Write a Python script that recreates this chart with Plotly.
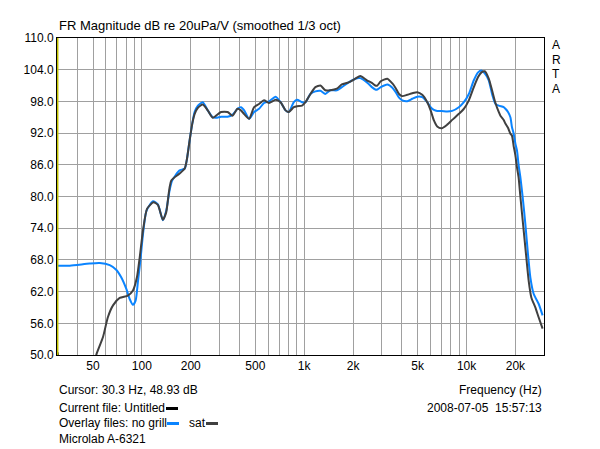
import math
import plotly.graph_objects as go

# ---------------- data ----------------
freq_nogrill = [30.3, 36, 47.6, 55, 63.4, 69.7, 74.6, 80.2, 84.1, 88.1, 91.5, 94.7, 97.9,
                101.6, 106.7, 117, 125.5, 134.6, 141.2, 148, 153.6, 170, 183.6, 189.5,
                196.8, 204.4, 211.2, 221.4, 237.3, 254.6, 273.1, 286.6, 307.2, 337.2,
                362, 388.3, 407.4, 427, 458, 491.3, 527, 565.4, 606.6, 667.1, 715.5,
                767.6, 804.2, 862.7, 904, 970, 1018, 1092, 1172, 1258, 1349, 1447,
                1590, 1706, 1878, 2064, 2215, 2434, 2611, 2741, 2822, 2962, 3252,
                3492, 3662, 3837, 4021, 4314, 4632, 4972, 5335, 5726, 6009, 6294,
                6596, 7021, 7596, 8157, 8965, 9623, 10330, 11086, 11778, 12360,
                12950, 13700, 14357, 15067, 15786, 16940, 17355, 18006, 18627,
                19053, 19518, 19992, 20448, 20946, 21456, 22167, 23028, 23892,
                24714, 25896, 27795, 29412]
db_nogrill = [66.9, 66.9, 67.3, 67.4, 67.0, 66.1, 64.7, 62.5, 60.6, 59.5, 60.3, 64.1, 67.9,
              72.9, 77.3, 79.1, 78.5, 75.5, 77.3, 81.1, 83.0, 84.9, 85.3, 87.1,
              90.6, 93.8, 96.0, 97.2, 97.85, 96.3, 95.0, 94.9, 95.1, 95.1,
              95.5, 96.6, 96.9, 96.3, 94.7, 96.0, 96.6, 97.7, 98.0, 98.9, 97.85,
              96.3, 96.0, 97.85, 98.3, 97.85, 97.85, 99.4, 99.9, 100.0, 99.4, 100.1,
              100.1, 100.7, 101.6, 102.3, 102.4, 101.6, 100.7, 100.25, 100.25, 100.7, 101.2,
              100.6, 99.75, 98.7, 98.2, 98.05, 98.5, 98.9, 98.8, 97.85, 96.9, 96.4,
              96.2, 96.2, 96.1, 96.2, 96.9, 97.85, 99.4, 102.0, 103.5, 103.85,
              103.3, 102.0, 99.4, 97.55, 97.2, 96.9, 96.6, 96.0, 95.0,
              93.1, 91.9, 90.0, 88.7, 85.9, 83.65, 79.9, 74.8, 69.15,
              64.7, 61.6, 59.7, 57.5]

freq_sat = [30.3, 31, 33, 40, 47, 52.6, 57.6, 61.8, 66.4, 73, 82, 88.1, 93.2, 97,
            101.6, 107.7, 118, 125.5, 134.6, 141.2, 151.5, 170.1, 183.6, 189.5,
            196.8, 204.4, 211.2, 221.4, 237.3, 254.6, 273.1, 286.6, 307.2, 337.2,
            362, 388.3, 407.4, 427, 458, 491.3, 527, 565.4, 606.6, 667.1, 715.5,
            767.6, 804.2, 862.7, 904, 970, 1018, 1092, 1172, 1258, 1349, 1447,
            1590, 1706, 1878, 2064, 2215, 2434, 2611, 2741, 2822, 2962, 3252,
            3492, 3662, 3837, 4021, 4314, 4632, 4972, 5335, 5726, 6009, 6294,
            6596, 7021, 7596, 8157, 8965, 9623, 10330, 11086, 11778, 12360,
            12950, 13700, 14357, 15067, 15786, 16170, 16940, 17355, 18006,
            18627, 19053, 19518, 19992, 20448, 20946, 21456, 22482, 23226,
            24129, 25068, 26526, 27795, 29412]
db_sat = [50.5, 48.5, 45.0, 42.0, 45.0, 50.2, 53.4, 57.2, 59.4, 60.8, 61.25, 62.2, 64.7, 68.5,
          73.6, 77.7, 78.9, 78.4, 75.6, 77.0, 83.0, 84.3, 85.3, 87.1,
          90.6, 93.8, 95.6, 96.8, 97.4, 96.3, 94.9, 95.3, 96.0, 96.0,
          95.3, 96.6, 96.3, 95.6, 94.7, 96.9, 97.5, 98.2, 97.7, 98.3, 97.85,
          96.3, 96.0, 96.9, 97.1, 97.2, 97.85, 99.4, 100.7, 101.0, 100.1, 100.1,
          100.4, 101.2, 101.6, 102.3, 102.8, 102.0, 101.5, 101.0, 101.0, 101.8, 102.3,
          101.4, 100.5, 99.4, 99.0, 99.25, 99.55, 99.75, 99.25, 97.85, 96.3, 94.4,
          93.25, 92.9, 93.6, 94.5, 95.65, 96.6, 98.2, 100.7, 102.6, 103.5,
          103.7, 102.3, 100.1, 97.7, 96.0, 95.3, 94.5, 93.8, 93.0,
          91.9, 91.5, 89.5, 87.8, 85.5, 83.5, 80.0, 73.6, 69.15,
          64.1, 60.9, 59.0, 57.15, 55.0]

x_tick_vals = [50, 100, 200, 500, 1000, 2000, 5000, 10000, 20000]
x_tick_text = ["50", "100", "200", "500", "1k", "2k", "5k", "10k", "20k"]
x_minor_grid = [40, 60, 70, 80, 90, 300, 400, 600, 700, 800, 900,
                3000, 4000, 6000, 7000, 8000, 9000]
x_decade_grid = [100, 1000, 10000]
y_tick_vals = [50, 56, 62, 68, 74, 80, 86, 92, 98, 104, 110]
x_range_hz = [30, 30000]
y_range_db = [50, 110]
cursor_hz = 30.3

title_text = "FR Magnitude dB re 20uPa/V (smoothed 1/3 oct)"
cursor_text = "Cursor: 30.3 Hz, 48.93 dB"
current_text = "Current file: Untitled"
overlay_text = "Overlay files: no grill"
overlay2_text = "sat"
name_text = "Microlab A-6321"
freq_label = "Frequency (Hz)"
date_text = "2008-07-05\u00a0\u00a015:57:13"

# ---------------- styling ----------------
WIN_W, WIN_H = 600, 449
OFF = 8  # page body margin of the browser
W, H = WIN_W - OFF, WIN_H - OFF
# plot area in window pixels
L, R, T, B = 57, 544, 38, 355
FONT = dict(family="Arial, Liberation Sans, sans-serif", size=12, color="#000000")
TITLE_FONT = dict(family="Arial, Liberation Sans, sans-serif", size=13, color="#000000")
BLUE = "#0a84ff"
DARK = "#404040"
GRID = "#a0a0a0"


def xp(px):
    return (px - L) / (R - L)


def yp(py):
    return (B - py) / (B - T)


fig = go.Figure()
fig.add_trace(go.Scatter(x=freq_nogrill, y=db_nogrill, mode="lines",
                         line=dict(color=BLUE, width=2, shape="spline", smoothing=0.6),
                         hoverinfo="skip", showlegend=False))
fig.add_trace(go.Scatter(x=freq_sat, y=db_sat, mode="lines",
                         line=dict(color=DARK, width=2, shape="spline", smoothing=0.6),
                         hoverinfo="skip", showlegend=False))

fig.update_layout(
    width=W, height=H,
    margin=dict(l=L - OFF, r=WIN_W - R, t=T - OFF, b=WIN_H - B, pad=0),
    paper_bgcolor="white", plot_bgcolor="white",
    font=FONT,
    showlegend=False,
    xaxis=dict(type="log", range=[math.log10(x_range_hz[0]), math.log10(x_range_hz[1])],
               tickmode="array", tickvals=x_tick_vals, ticktext=x_tick_text,
               showgrid=True, gridcolor=GRID, gridwidth=1,
               minor=dict(tickmode="array", tickvals=x_minor_grid, showgrid=True,
                          gridcolor=GRID, gridwidth=1, ticks=""),
               ticks="", ticklen=0, showline=True, linecolor="black", linewidth=1,
               mirror=True, zeroline=False, tickfont=FONT, fixedrange=True),
    xaxis2=dict(type="log", overlaying="x", matches="x",
                range=[math.log10(x_range_hz[0]), math.log10(x_range_hz[1])],
                tickmode="array", tickvals=x_decade_grid, showticklabels=False,
                showgrid=True, gridcolor="#8a8a8a", gridwidth=1, ticks="",
                showline=False, zeroline=False),
    yaxis=dict(range=y_range_db, tickmode="array", tickvals=y_tick_vals,
               tickformat=".1f", showgrid=True, gridcolor=GRID, gridwidth=1,
               ticks="", showline=True, linecolor="black", linewidth=1, mirror=True,
               zeroline=False, tickfont=FONT, fixedrange=True),
)

# cursor line
fig.add_shape(type="line", xref="x", yref="paper", x0=cursor_hz, x1=cursor_hz, y0=0, y1=1,
              line=dict(color="#c0c000", width=1.5))


def ann(text, x, y, xanchor="left", font=FONT):
    fig.add_annotation(text=text, xref="paper", yref="paper", x=x, y=y,
                       xanchor=xanchor, yanchor="middle", showarrow=False,
                       font=font, align=xanchor)


ann(title_text, 0, yp(25), font=TITLE_FONT)
for ch, py in zip("ARTA", [45, 60, 74, 89]):
    ann(ch, xp(556), yp(py), "center")
ann(cursor_text, 0, yp(390))
ann(freq_label, 1, yp(390), "right")
ann(current_text, 0, yp(407.5))
ann(date_text, 1, yp(407.5), "right")
ann(overlay_text, 0, yp(423))
ann(overlay2_text, xp(187), yp(423))
ann(name_text, 0, yp(439))

for x0, x1, py, col in [(166, 178, 408.5, "#000000"), (167, 179, 423.5, BLUE),
                        (206, 218, 423.5, DARK)]:
    fig.add_shape(type="line", xref="paper", yref="paper", x0=xp(x0), x1=xp(x1),
                  y0=yp(py), y1=yp(py), line=dict(color=col, width=3))

fig.write_html("out.html")
